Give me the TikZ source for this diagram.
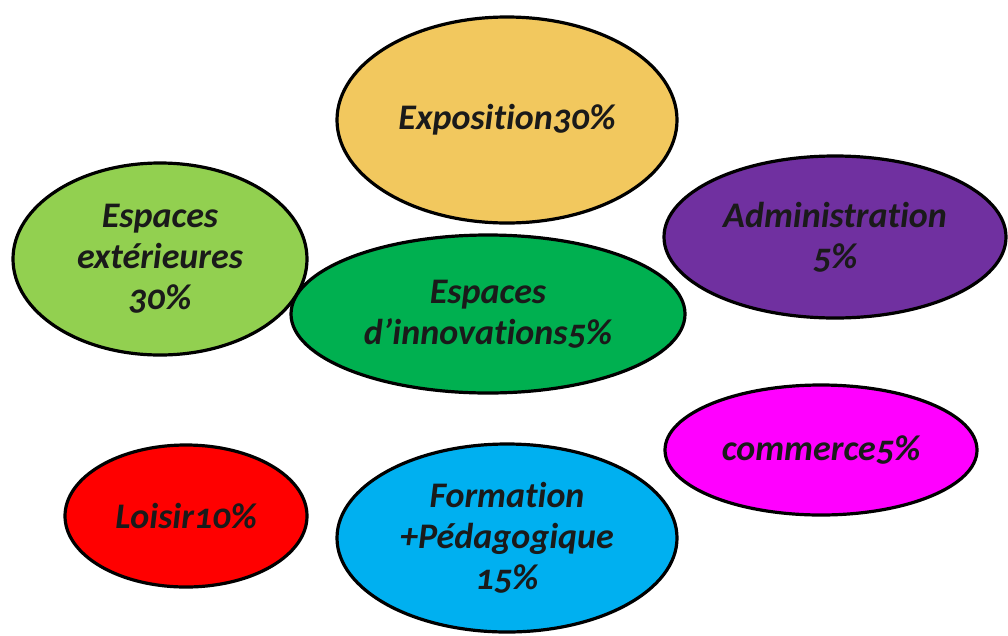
\documentclass[tikz,border=0pt]{standalone}
\usepackage{fontspec}
\setmainfont{Carlito}[Numbers=OldStyle,Ligatures=NoCommon]
\usetikzlibrary{shapes.geometric}
\definecolor{cExpo}{HTML}{F2C85E}
\definecolor{cAdmin}{HTML}{7030A0}
\definecolor{cExt}{HTML}{92D050}
\definecolor{cInno}{HTML}{00B050}
\definecolor{cComm}{HTML}{FF00FF}
\definecolor{cLoisir}{HTML}{FF0000}
\definecolor{cForm}{HTML}{00B0F0}
\definecolor{cText}{HTML}{1A1A1A}
\tikzset{
  bubble/.style={ellipse, draw=black, line width=3.2pt, inner sep=0pt,
    align=center, text=cText,
    font=\fontsize{36}{41}\selectfont\bfseries\itshape}
}
\begin{document}
\begin{tikzpicture}[x=1pt,y=-1pt]
\useasboundingbox (0,0) rectangle (1008,635);
\node[bubble, fill=cExpo, minimum width=340pt, minimum height=206pt] (expo) at (507,120) {Exposition30\%};
\node[bubble, fill=cAdmin, minimum width=342pt, minimum height=162pt] (admin) at (835,237) {Administration\\5\%};
\node[bubble, fill=cExt, minimum width=294pt, minimum height=192pt] (ext) at (160,259) {Espaces\\extérieures\\30\%};
\node[bubble, fill=cInno, minimum width=394pt, minimum height=158pt] (inno) at (488,314) {Espaces\\d’innovations5\%};
\node[bubble, fill=cComm, minimum width=312pt, minimum height=130pt] (comm) at (821,450) {commerce5\%};
\node[bubble, fill=cLoisir, minimum width=242pt, minimum height=142pt] (loisir) at (186,516) {Loisir10\%};
\node[bubble, fill=cForm, minimum width=340pt, minimum height=188pt] (form) at (507,538) {Formation\\+Pédagogique\\15\%};
\end{tikzpicture}
\end{document}
